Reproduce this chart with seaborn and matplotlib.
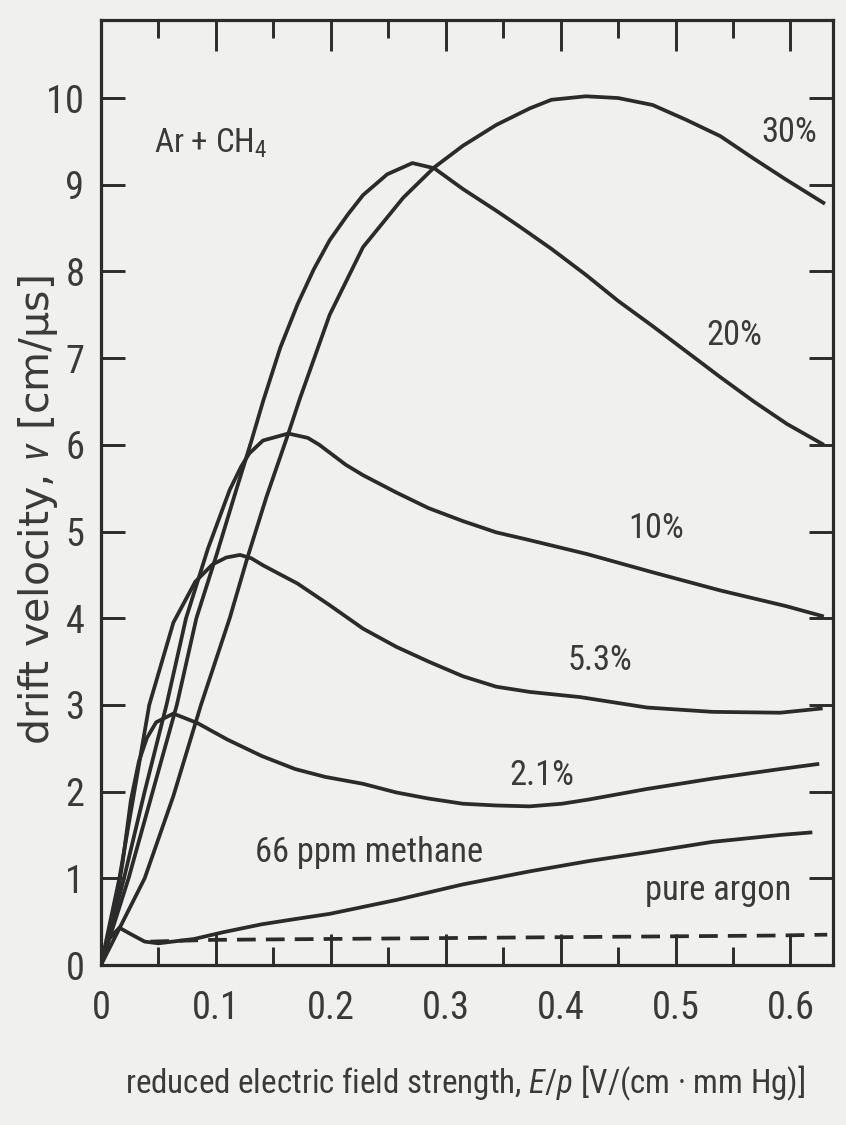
import matplotlib
matplotlib.use("Agg")
import matplotlib.pyplot as plt
from matplotlib import font_manager
from matplotlib.ticker import MultipleLocator
import pandas as pd
import seaborn as sns

# Drift velocity of electrons in argon-methane mixtures vs reduced field E/p
ep_30 = [0, 0.038, 0.063, 0.087, 0.112, 0.127, 0.144, 0.163, 0.173, 0.199, 0.228,
         0.263, 0.290, 0.315, 0.344, 0.373, 0.392, 0.422, 0.450, 0.480, 0.509,
         0.539, 0.567, 0.596, 0.630]
v_30 = [0, 1.0, 1.95, 3.0, 4.0, 4.68, 5.4, 6.13, 6.53, 7.5, 8.28,
        8.85, 9.2, 9.45, 9.69, 9.88, 9.98, 10.02, 10.0, 9.92, 9.75,
        9.56, 9.31, 9.06, 8.78]

ep_20 = [0, 0.024, 0.045, 0.066, 0.083, 0.101, 0.117, 0.131, 0.141, 0.156, 0.171,
         0.185, 0.199, 0.215, 0.228, 0.249, 0.271, 0.290, 0.315, 0.344, 0.364,
         0.392, 0.422, 0.450, 0.480, 0.509, 0.539, 0.568, 0.597, 0.629]
v_20 = [0, 1.0, 2.0, 3.0, 4.0, 4.75, 5.45, 6.05, 6.5, 7.12, 7.62,
        8.02, 8.36, 8.66, 8.88, 9.12, 9.25, 9.19, 8.95, 8.7, 8.52,
        8.26, 7.96, 7.66, 7.37, 7.08, 6.78, 6.5, 6.24, 6.0]

ep_10 = [0, 0.020, 0.038, 0.057, 0.074, 0.093, 0.112, 0.122, 0.129, 0.141, 0.163,
         0.180, 0.190, 0.199, 0.213, 0.228, 0.257, 0.285, 0.315, 0.344, 0.370,
         0.423, 0.480, 0.539, 0.596, 0.629]
v_10 = [0, 1.0, 2.0, 3.0, 4.0, 4.8, 5.48, 5.75, 5.9, 6.05, 6.13,
        6.08, 6.0, 5.91, 5.77, 5.65, 5.45, 5.27, 5.12, 4.99, 4.91,
        4.74, 4.53, 4.32, 4.14, 4.02]

ep_53 = [0, 0.016, 0.029, 0.042, 0.063, 0.082, 0.097, 0.109, 0.121, 0.131, 0.141,
         0.171, 0.199, 0.228, 0.257, 0.285, 0.315, 0.344, 0.373, 0.417, 0.475,
         0.532, 0.591, 0.628]
v_53 = [0, 1.0, 2.0, 3.0, 3.95, 4.42, 4.62, 4.7, 4.73, 4.69, 4.61,
        4.4, 4.15, 3.88, 3.67, 3.5, 3.33, 3.21, 3.15, 3.09, 2.97,
        2.92, 2.91, 2.96]

ep_21 = [0, 0.011, 0.019, 0.026, 0.033, 0.040, 0.048, 0.063, 0.084, 0.110, 0.140,
         0.169, 0.195, 0.228, 0.257, 0.285, 0.315, 0.344, 0.373, 0.401, 0.425,
         0.475, 0.532, 0.591, 0.625]
v_21 = [0, 0.55, 1.2, 1.9, 2.35, 2.62, 2.8, 2.9, 2.79, 2.6, 2.41,
        2.26, 2.17, 2.09, 1.99, 1.92, 1.86, 1.84, 1.83, 1.86, 1.91,
        2.03, 2.15, 2.26, 2.32]

ep_66ppm = [0, 0.007, 0.016, 0.024, 0.038, 0.050, 0.081, 0.107, 0.140, 0.169,
            0.199, 0.257, 0.315, 0.373, 0.425, 0.475, 0.532, 0.591, 0.619]
v_66ppm = [0, 0.3, 0.43, 0.37, 0.27, 0.25, 0.3, 0.38, 0.47, 0.53,
           0.59, 0.75, 0.93, 1.08, 1.2, 1.3, 1.42, 1.5, 1.53]

ep_ar = [0.043, 0.097, 0.195, 0.293, 0.391, 0.490, 0.588, 0.632]
v_ar = [0.27, 0.29, 0.30, 0.31, 0.32, 0.33, 0.34, 0.35]

curve_labels = ["30%", "20%", "10%", "5.3%", "2.1%", "66 ppm methane", "pure argon"]
label_x = [0.599, 0.551, 0.483, 0.434, 0.384, 0.233, 0.537]
label_y = [9.49, 7.15, 4.92, 3.40, 2.08, 1.19, 0.75]

x_ticks = [0, 0.1, 0.2, 0.3, 0.4, 0.5, 0.6]
x_tick_labels = ["0", "0.1", "0.2", "0.3", "0.4", "0.5", "0.6"]
y_ticks = list(range(0, 11))

gas_title = r"Ar + CH$_4$"
x_title = r"reduced electric field strength, $\mathit{E/p}$ [V/(cm · mm Hg)]"
y_title = r"drift velocity, $\mathit{v}$ [cm/μs]"

# ---------------------------------------------------------------- styling
paper = "#f0f0ee"
ink = "#2b2b2b"
text_ink = "#3a3a3a"

sns.set_theme(style="ticks", rc={
    "figure.facecolor": paper,
    "axes.facecolor": paper,
    "savefig.facecolor": paper,
    "axes.edgecolor": ink,
    "axes.linewidth": 2.2,
})

# a narrow sans-serif for the horizontal lettering, if one is installed
available = {f.name for f in font_manager.fontManager.ttflist}
narrow_choices = ["Liberation Sans Narrow", "Arial Narrow", "Roboto Condensed",
                  "Archivo Narrow", "PT Sans Narrow", "Pragati Narrow",
                  "Encode Sans Condensed", "Liberation Sans"]
narrow = next(f for f in narrow_choices if f in available) \
    if any(f in available for f in narrow_choices) else "DejaVu Sans"
wide = "DejaVu Sans"

plt.rcParams["font.family"] = [narrow, "DejaVu Sans"]
plt.rcParams["mathtext.fontset"] = "custom"
plt.rcParams["mathtext.rm"] = narrow
plt.rcParams["mathtext.it"] = narrow + ":italic"
plt.rcParams["mathtext.default"] = "regular"

fig = plt.figure(figsize=(8.46, 11.25), dpi=100)
renderer = fig.canvas.get_renderer()


def size_for_width(text, width_px, family, base=20.0):
    """Font size (pt) at which `text` spans about `width_px` pixels."""
    probe = fig.text(0, 0, text, fontsize=base, family=family)
    w = probe.get_window_extent(renderer).width
    probe.remove()
    return base * width_px / w


tick_size = min(30.0, size_for_width("0.1", 48, [narrow, "DejaVu Sans"]))
xlabel_size = size_for_width(x_title, 680, [narrow, "DejaVu Sans"])
ylabel_size = min(30.0, size_for_width(y_title, 470, [wide]))
note_size = min(28.0, size_for_width("66 ppm methane", 228, [narrow, "DejaVu Sans"]))
gas_size = min(28.0, size_for_width(gas_title, 114, [narrow, "DejaVu Sans"]))

ax = fig.add_axes([101 / 846, 1 - 965 / 1125, 732 / 846, 945 / 1125])

series = [
    (ep_30, v_30, "-"),
    (ep_20, v_20, "-"),
    (ep_10, v_10, "-"),
    (ep_53, v_53, "-"),
    (ep_21, v_21, "-"),
    (ep_66ppm, v_66ppm, "-"),
    (ep_ar, v_ar, (0, (5.0, 2.7))),
]
for xs, ys, ls in series:
    df = pd.DataFrame({"E/p": xs, "v": ys})
    sns.lineplot(data=df, x="E/p", y="v", ax=ax, color=ink, lw=2.7,
                 linestyle=ls, sort=False, errorbar=None, legend=False,
                 solid_capstyle="butt", dash_capstyle="butt",
                 solid_joinstyle="round")

ax.set_xlim(0, 0.637)
ax.set_ylim(0, 10.9)

ax.set_xticks(x_ticks)
ax.set_xticklabels(x_tick_labels)
ax.xaxis.set_minor_locator(MultipleLocator(0.05))
ax.set_yticks(y_ticks)

for side in ["top", "right", "bottom", "left"]:
    ax.spines[side].set_visible(True)
    ax.spines[side].set_color(ink)
    ax.spines[side].set_linewidth(2.3)

ax.tick_params(axis="both", which="both", direction="in", top=True, right=True,
               color=ink, width=2.1, labelcolor=text_ink, labelsize=tick_size)
ax.tick_params(axis="x", which="major", length=22, pad=18)
ax.tick_params(axis="x", which="minor", length=13)
ax.tick_params(axis="y", which="major", length=17, pad=12)
ax.tick_params(axis="y", which="minor", length=0)

ax.set_xlabel(x_title, fontsize=xlabel_size, color=text_ink, va="center", ha="center")
ax.xaxis.set_label_coords(0.497, -0.125)
ax.set_ylabel(y_title, fontsize=ylabel_size, color=text_ink, va="center",
              ha="center", family=[wide])
ax.yaxis.set_label_coords(-0.086, 0.481)

ax.text(0.046, 9.37, gas_title, fontsize=gas_size, color=text_ink,
        ha="left", va="baseline")
for lab, lx, ly in zip(curve_labels, label_x, label_y):
    ax.text(lx, ly, lab, fontsize=note_size, color=text_ink, ha="center", va="baseline")

fig.savefig("out.png", dpi=100, facecolor=paper)
